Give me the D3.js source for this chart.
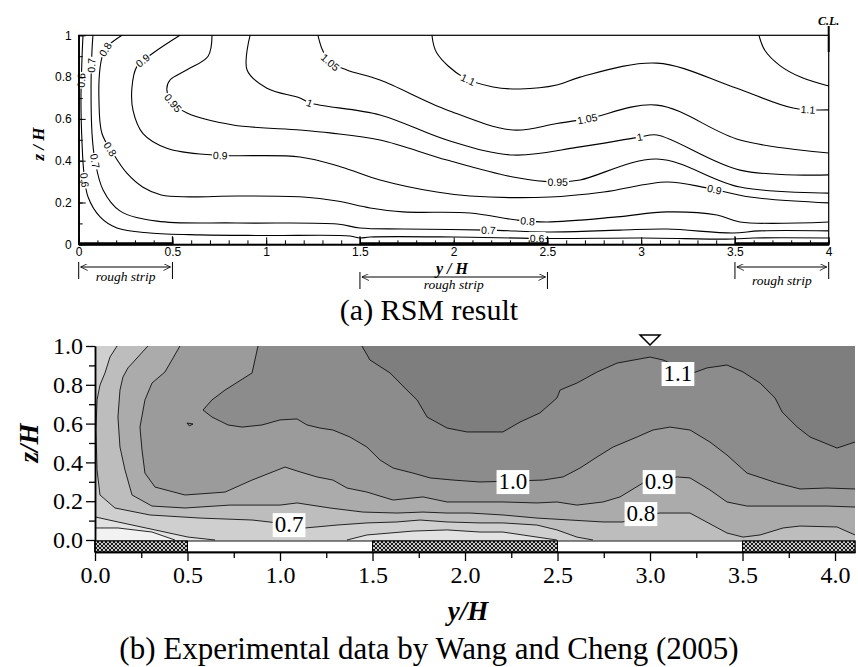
<!DOCTYPE html>
<html><head><meta charset="utf-8">
<script src="https://cdn.jsdelivr.net/npm/d3@7"></script>
<style>body{margin:0;background:#fff}</style>
</head><body>
<svg id="chart" width="858" height="667"></svg>
<script>
// ================= DATA =================
// (a) RSM result : contour lines, points are [y/H, z/H]
const rsmXTicks = [0,0.5,1,1.5,2,2.5,3,3.5,4];
const rsmZTicks = [0,0.2,0.4,0.6,0.8,1];
const roughStrips = [[0,0.5],[1.5,2.5],[3.5,4]];
const stripMarks = [0.5,1.5,2.5,3.5];

const rsm06 = [[0.023,1],[0.018,0.9],[0.012,0.69],[0.018,0.48],[0.028,0.34],[0.05,0.226],[0.114,0.131],[0.204,0.078],[0.38,0.054],[0.65,0.045],[1.0,0.042],[1.447,0.04],[1.5,0.03],[1.554,0.035],[2.0,0.035],[2.5,0.028],[3.0,0.03],[3.49,0.025],[3.6,0.03],[4,0.03]];
const rsm07 = [[0.076,1],[0.071,0.93],[0.066,0.77],[0.071,0.53],[0.087,0.40],[0.13,0.26],[0.22,0.16],[0.418,0.111],[0.844,0.102],[1.378,0.097],[1.5,0.078],[1.73,0.073],[2.183,0.068],[2.514,0.059],[2.887,0.068],[3.137,0.073],[3.49,0.054],[3.63,0.064],[4,0.064]];
const rsm08 = [[0.231,1],[0.157,0.95],[0.13,0.91],[0.114,0.845],[0.108,0.69],[0.124,0.53],[0.183,0.435],[0.257,0.34],[0.343,0.273],[0.44,0.236],[0.59,0.227],[0.844,0.231],[1.197,0.226],[1.378,0.207],[1.554,0.174],[1.73,0.155],[2.087,0.15],[2.337,0.116],[2.497,0.107],[2.87,0.131],[3.137,0.155],[3.404,0.14],[3.527,0.107],[4,0.107]];
const rsm09 = [[0.54,1],[0.397,0.915],[0.31,0.85],[0.284,0.75],[0.29,0.64],[0.343,0.53],[0.47,0.46],[0.716,0.427],[1.18,0.418],[1.4,0.37],[1.607,0.308],[1.91,0.25],[2.087,0.231],[2.514,0.226],[2.8,0.25],[3.137,0.298],[3.35,0.27],[3.58,0.226],[4,0.198]];
const rsm095 = [[0.711,1],[0.69,0.9],[0.578,0.835],[0.487,0.786],[0.47,0.74],[0.503,0.676],[0.578,0.628],[0.823,0.571],[1.18,0.547],[1.34,0.533],[1.607,0.499],[1.964,0.403],[2.316,0.322],[2.55,0.298],[2.674,0.308],[3.084,0.408],[3.527,0.274],[4,0.245]];
const rsm10 = [[0.914,1],[0.898,0.834],[1.004,0.747],[1.18,0.7],[1.234,0.676],[1.607,0.619],[1.964,0.499],[2.316,0.427],[2.674,0.466],[2.993,0.513],[3.084,0.523],[3.527,0.355],[4,0.332]];
const rsm105 = [[1.276,1],[1.30,0.93],[1.34,0.872],[1.43,0.834],[1.607,0.786],[1.964,0.643],[2.316,0.547],[2.55,0.578],[2.711,0.6],[3.084,0.666],[3.527,0.499],[4,0.437]];
const rsm11 = [[1.884,1],[1.91,0.915],[2.05,0.8],[2.21,0.753],[2.354,0.743],[2.55,0.762],[2.674,0.8],[3.084,0.867],[3.49,0.753],[3.81,0.652],[4,0.643]];
const rsm115 = [[3.628,1],[3.66,0.927],[3.74,0.855],[3.85,0.8],[4,0.757]];
const rsmLines = [rsm06,rsm07,rsm08,rsm09,rsm095,rsm10,rsm105,rsm11,rsm115];
// label text, approx [y/H, z/H]
const rsmLabels = [
 ["0.6",0.023,0.786],["0.7",0.071,0.858],["0.8",0.146,0.93],["0.9",0.338,0.882],
 ["0.95",0.503,0.676],["0.8",0.183,0.465],["0.7",0.098,0.40],["0.6",0.044,0.308],
 ["0.9",0.754,0.427],["1",1.234,0.676],["1.05",1.34,0.872],["1.1",2.077,0.786],
 ["0.95",2.556,0.298],["1.05",2.711,0.609],["1",2.993,0.513],["0.9",3.393,0.26],
 ["1.1",3.89,0.643],["0.8",2.396,0.107],["0.7",2.183,0.068],["0.6",2.445,0.03]
];

// (b) Experimental data : contour lines [y/H, z/H]
const expXTicks = [0,0.5,1,1.5,2,2.5,3,3.5,4];
const expZTicks = [0,0.2,0.4,0.6,0.8,1];
const expYMax = 4.108;
const exp11 = [[1.443,1],[1.486,0.928],[1.595,0.861],[1.686,0.773],[1.741,0.722],[1.795,0.634],[1.903,0.577],[2.011,0.557],[2.205,0.557],[2.297,0.608],[2.405,0.655],[2.497,0.732],[2.514,0.773],[2.605,0.809],[2.714,0.866],[2.822,0.912],[3.0,0.943],[3.07,0.928],[3.232,0.861],[3.308,0.887],[3.416,0.902],[3.503,0.866],[3.595,0.809],[3.676,0.732],[3.714,0.66],[3.795,0.583],[3.865,0.531],[4.011,0.474],[4.108,0.505]];
const exp10 = [[0.881,1],[0.849,0.861],[0.703,0.773],[0.632,0.722],[0.584,0.67],[0.632,0.634],[0.719,0.593],[0.795,0.582],[0.903,0.593],[1.0,0.619],[1.092,0.624],[1.146,0.593],[1.216,0.577],[1.286,0.567],[1.378,0.531],[1.47,0.479],[1.541,0.412],[1.611,0.371],[1.719,0.345],[1.811,0.32],[1.935,0.309],[2.081,0.299],[2.259,0.304],[2.422,0.309],[2.53,0.325],[2.622,0.371],[2.714,0.428],[2.8,0.479],[2.93,0.531],[3.016,0.567],[3.108,0.582],[3.216,0.567],[3.324,0.505],[3.416,0.438],[3.524,0.345],[3.686,0.294],[3.811,0.263],[3.957,0.268],[4.108,0.263]];
const exp10Island = [[0.497,0.603],[0.53,0.598],[0.51,0.588],[0.497,0.603]];
const exp09 = [[0.459,1],[0.416,0.928],[0.378,0.866],[0.308,0.809],[0.27,0.722],[0.243,0.582],[0.254,0.464],[0.27,0.345],[0.324,0.273],[0.486,0.232],[0.703,0.247],[0.849,0.309],[1.027,0.376],[1.108,0.351],[1.2,0.325],[1.286,0.309],[1.362,0.268],[1.47,0.247],[1.611,0.206],[1.773,0.222],[1.903,0.196],[2.027,0.196],[2.205,0.196],[2.389,0.191],[2.497,0.196],[2.605,0.18],[2.746,0.196],[2.838,0.222],[2.962,0.294],[3.054,0.304],[3.146,0.325],[3.216,0.32],[3.324,0.258],[3.416,0.196],[3.524,0.175],[3.773,0.175],[3.957,0.175],[4.108,0.17]];
const exp08 = [[0.286,1],[0.178,0.887],[0.151,0.84],[0.135,0.773],[0.124,0.634],[0.135,0.479],[0.162,0.361],[0.2,0.232],[0.308,0.175],[0.486,0.165],[0.73,0.18],[1.0,0.18],[1.092,0.191],[1.27,0.165],[1.449,0.144],[1.632,0.139],[1.773,0.144],[1.903,0.139],[2.027,0.139],[2.205,0.129],[2.389,0.113],[2.568,0.103],[2.746,0.093],[2.854,0.093],[2.946,0.129],[3.054,0.139],[3.216,0.139],[3.416,0.036],[3.503,0.015],[3.595,0.026],[3.719,0.062],[3.811,0.072],[4.011,0.067],[4.108,0.026]];
const exp07 = [[0.119,1],[0.081,0.943],[0.054,0.861],[0.027,0.799],[0.011,0.722],[0.005,0.567],[0.011,0.361],[0.027,0.232],[0.108,0.165],[0.297,0.129],[0.568,0.113],[0.849,0.103],[1.043,0.082],[1.135,0.062],[1.308,0.077],[1.47,0.088],[1.632,0.093],[1.757,0.103],[1.903,0.093],[2.081,0.088],[2.205,0.088],[2.389,0.077],[2.497,0.052],[2.605,0.015],[2.692,0]];
const exp06a = [[0,0.119],[0.124,0.093],[0.324,0.052],[0.503,0.015],[0.649,0]];
const exp06b = [[1.362,0],[1.47,0.026],[1.719,0.046],[1.903,0.052],[2.081,0.041],[2.205,0.041],[2.389,0.015],[2.497,0]];
const exp05 = [[0,0.062],[0.124,0.062],[0.308,0.041],[0.432,0]];
const expLabels = [["1.1",3.151,0.861],["1.0",2.259,0.304],["0.9",3.049,0.304],["0.8",2.951,0.139],["0.7",1.049,0.082]];
const bandColors = ["#f2f2f2","#e2e2e2","#cfcfcf","#bdbdbd","#ababab","#9b9b9b","#8c8c8c","#7e7e7e"];

// ================= DRAW =================
const svg = d3.select("#chart");
const SERIF = "'Liberation Serif','Times New Roman',serif";
const SANS = "'Liberation Sans',Arial,sans-serif";
svg.append("defs").html(`<marker id="ah" viewBox="0 0 10 10" refX="10" refY="5" markerWidth="12" markerHeight="7" orient="auto-start-reverse" markerUnits="userSpaceOnUse"><path d="M0,0 L10,5 L0,10" fill="none" stroke="#000" stroke-width="1.1"/></marker>
<pattern id="hatch" width="4" height="4" patternUnits="userSpaceOnUse"><rect width="4" height="4" fill="#c8c8c8"/><path d="M0,0 L4,4 M4,0 L0,4" stroke="#1a1a1a" stroke-width="1"/></pattern>`);

// ---------- panel (a) ----------
const xT = d3.scaleLinear().domain([0,4]).range([78.7,828.7]);
const zT = d3.scaleLinear().domain([0,1]).range([244.3,35.3]);
const gA = svg.append("g");
const lineT = d3.line().x(d=>xT(d[0])).y(d=>zT(d[1])).curve(d3.curveCatmullRom.alpha(0.5));
const pathsA = rsmLines.map(l => gA.append("path").attr("d",lineT(l)).attr("fill","none").attr("stroke","#000").attr("stroke-width",1.1).node());

function placeLabel(g, paths, text, px, py, font, size, pad){
  let best=null;
  paths.forEach(pn=>{
    const L=pn.getTotalLength();
    for(let s=0;s<=L;s+=1){const p=pn.getPointAtLength(s);const d=(p.x-px)**2+(p.y-py)**2;if(!best||d<best.d)best={d,s,pn,L};}
  });
  const p=best.pn.getPointAtLength(best.s);
  const a=best.pn.getPointAtLength(Math.max(0,best.s-5)), b=best.pn.getPointAtLength(Math.min(best.L,best.s+5));
  let ang=Math.atan2(b.y-a.y,b.x-a.x)*180/Math.PI;
  if(ang>90)ang-=180; if(ang<=-90)ang+=180;
  const t=g.append("g").attr("transform",`translate(${p.x},${p.y}) rotate(${ang})`);
  const txt=t.append("text").attr("text-anchor","middle").attr("dy","0.36em").attr("font-family",font).attr("font-size",size).text(text);
  const bb=txt.node().getBBox();
  t.insert("rect","text").attr("x",bb.x-pad).attr("y",bb.y-pad*0.3).attr("width",bb.width+2*pad).attr("height",bb.height+pad*0.6).attr("fill","#fff");
}
rsmLabels.forEach(([t,y,z])=>placeLabel(gA,pathsA,t,xT(y),zT(z),SANS,10.5,1));

// frame
gA.append("rect").attr("x",xT(0)).attr("y",zT(1)).attr("width",xT(4)-xT(0)).attr("height",zT(0)-zT(1)).attr("fill","none").attr("stroke","#000").attr("stroke-width",1.2);
// axes
const axA = gA.append("g").attr("transform",`translate(0,${zT(0)})`);
axA.call(d3.axisBottom(xT).tickValues(rsmXTicks).tickFormat(d3.format("~g")).tickSize(-7).tickSizeOuter(0).tickPadding(3));
axA.append("g").call(d3.axisBottom(xT).tickValues(d3.range(0,4.001,0.1)).tickFormat("").tickSize(-4).tickSizeOuter(0));
const ayA = gA.append("g").attr("transform",`translate(${xT(0)},0)`);
ayA.call(d3.axisLeft(zT).tickValues(rsmZTicks).tickFormat(d3.format("~g")).tickSize(-7).tickSizeOuter(0).tickPadding(7));
ayA.append("g").call(d3.axisLeft(zT).tickValues(d3.range(0,1.001,0.1)).tickFormat("").tickSize(-4).tickSizeOuter(0));
gA.selectAll(".tick text").attr("font-family",SANS).attr("font-size",12);
gA.selectAll(".domain").attr("stroke-width",1.2);
// thick rough strips and marks
roughStrips.forEach(([a,b])=>gA.append("line").attr("x1",xT(a)).attr("x2",xT(b)).attr("y1",zT(0)-0.5).attr("y2",zT(0)-0.5).attr("stroke","#000").attr("stroke-width",3));
stripMarks.forEach(v=>gA.append("line").attr("x1",xT(v)).attr("x2",xT(v)).attr("y1",zT(0)).attr("y2",zT(0)-8).attr("stroke","#000").attr("stroke-width",1.2));
// C.L.
gA.append("line").attr("x1",xT(4)).attr("x2",xT(4)).attr("y1",26).attr("y2",52).attr("stroke","#000").attr("stroke-width",2);
gA.append("text").attr("x",xT(4)).attr("y",25).attr("text-anchor","middle").attr("font-family",SERIF).attr("font-style","italic").attr("font-weight","bold").attr("font-size",12).text("C.L.");
// axis titles
gA.append("text").attr("transform",`translate(44,144) rotate(-90)`).attr("text-anchor","middle").attr("font-family",SERIF).attr("font-style","italic").attr("font-weight","bold").attr("font-size",17).text("z / H");
gA.append("text").attr("x",452).attr("y",274).attr("text-anchor","middle").attr("font-family",SERIF).attr("font-style","italic").attr("font-weight","bold").attr("font-size",16).text("y / H");
// rough strip annotations
const roughAnn = [[0,0.5,267,281],[1.5,2.5,277,289],[3.5,4,267,285]];
roughAnn.forEach(([a,b,ay,ty])=>{
  [a,b].forEach(v=>gA.append("line").attr("x1",xT(v)).attr("x2",xT(v)).attr("y1",ay-5).attr("y2",ay+12).attr("stroke","#000").attr("stroke-width",1));
  gA.append("line").attr("x1",xT(a)+2).attr("x2",xT(b)-2).attr("y1",ay).attr("y2",ay).attr("stroke","#000").attr("stroke-width",1).attr("marker-start","url(#ah)").attr("marker-end","url(#ah)");
  gA.append("text").attr("x",(xT(a)+xT(b))/2).attr("y",ty).attr("text-anchor","middle").attr("font-family",SERIF).attr("font-style","italic").attr("font-size",13.5).text("rough strip");
});
svg.append("text").attr("x",429).attr("y",320).attr("text-anchor","middle").attr("font-family",SERIF).attr("font-size",30).text("(a) RSM result");

// ---------- panel (b) ----------
const xB = d3.scaleLinear().domain([0,expYMax]).range([95,855]);
const zB = d3.scaleLinear().domain([0,1]).range([540,346]);
const gB = svg.append("g");
const lineB = d3.line().x(d=>xB(d[0])).y(d=>zB(d[1]));
const TR=[expYMax,1], BR=[expYMax,0], TL=[0,1];
const bands = [
  [TL,...exp05,BR,TR],
  [TL,...exp06a,...exp06b,BR,TR],
  [...exp07,BR,TR],
  [...exp08,TR],
  [...exp09,TR],
  [...exp10,TR],
  [...exp11,TR]
];
gB.append("rect").attr("x",xB(0)).attr("y",zB(1)).attr("width",xB(expYMax)-xB(0)).attr("height",zB(0)-zB(1)).attr("fill",bandColors[0]);
bands.forEach((b,i)=>gB.append("path").attr("d",lineB(b)+"Z").attr("fill",bandColors[i+1]));
gB.append("path").attr("d",lineB(exp10Island)).attr("fill",bandColors[6]);
[exp05,exp06a,exp06b,exp07,exp08,exp09,exp10,exp10Island,exp11].forEach(l=>gB.append("path").attr("d",lineB(l)).attr("fill","none").attr("stroke","#111").attr("stroke-width",0.9));
expLabels.forEach(([t,y,z])=>{
  const g=gB.append("g").attr("transform",`translate(${xB(y)},${zB(z)})`);
  const tx=g.append("text").attr("text-anchor","middle").attr("dy","0.35em").attr("font-family",SERIF).attr("font-size",23).text(t);
  const bb=tx.node().getBBox();
  g.insert("rect","text").attr("x",bb.x-2).attr("y",bb.y+1).attr("width",bb.width+4).attr("height",bb.height-1).attr("fill","#fff");
});
// bottom strip
const sTop=zB(-0.005), sBot=zB(-0.062);
gB.append("rect").attr("x",xB(0)).attr("y",sTop).attr("width",xB(expYMax)-xB(0)).attr("height",sBot-sTop).attr("fill","#fff").attr("stroke","#000").attr("stroke-width",1);
roughStrips.map(([a,b])=>[a, b===4?expYMax:b]).forEach(([a,b])=>gB.append("rect").attr("x",xB(a)).attr("y",sTop).attr("width",xB(b)-xB(a)).attr("height",sBot-sTop).attr("fill","url(#hatch)").attr("stroke","#000").attr("stroke-width",1));
// axes
const axB=gB.append("g").attr("transform",`translate(0,${sBot})`);
axB.call(d3.axisBottom(xB).tickValues(expXTicks).tickFormat(d3.format(".1f")).tickSize(9).tickSizeOuter(0).tickPadding(5));
axB.append("g").call(d3.axisBottom(xB).tickValues(d3.range(0.25,4.1,0.5)).tickFormat("").tickSize(6).tickSizeOuter(0));
const ayB=gB.append("g").attr("transform",`translate(${xB(0)},0)`);
ayB.call(d3.axisLeft(zB).tickValues(expZTicks).tickFormat(d3.format(".1f")).tickSize(9).tickSizeOuter(0).tickPadding(3));
ayB.append("g").call(d3.axisLeft(zB).tickValues(d3.range(0.1,1,0.2)).tickFormat("").tickSize(6).tickSizeOuter(0));
gB.append("line").attr("x1",xB(0)).attr("x2",xB(0)).attr("y1",zB(0)).attr("y2",sBot).attr("stroke","#000").attr("stroke-width",1.5);
gB.selectAll(".domain").attr("stroke-width",1.5);
gB.selectAll(".tick line").attr("stroke-width",1.3);
gB.selectAll(".tick text").attr("font-family",SERIF).attr("font-size",24);
// triangle marker at y/H = 3
const triX=xB(3), triY=zB(1);
gB.append("path").attr("d",`M${triX-10},${triY-11} L${triX+10},${triY-11} L${triX},${triY-1} Z`).attr("fill","#fff").attr("stroke","#000").attr("stroke-width",1.5);
// titles
gB.append("text").attr("transform",`translate(38,443) rotate(-90)`).attr("text-anchor","middle").attr("font-family",SERIF).attr("font-style","italic").attr("font-weight","bold").attr("font-size",27).text("z/H");
gB.append("text").attr("x",468).attr("y",620).attr("text-anchor","middle").attr("font-family",SERIF).attr("font-style","italic").attr("font-weight","bold").attr("font-size",27).text("y/H");
svg.append("text").attr("x",429).attr("y",659).attr("text-anchor","middle").attr("font-family",SERIF).attr("font-size",31).text("(b) Experimental data by Wang and Cheng (2005)");
</script>
</body></html>
